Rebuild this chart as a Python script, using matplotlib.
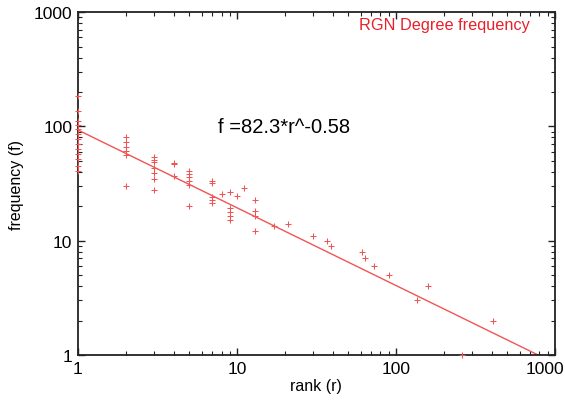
import matplotlib
matplotlib.use("Agg")
import matplotlib.pyplot as plt
import matplotlib.transforms as mtransforms
from matplotlib.ticker import FixedLocator, FixedFormatter, LogLocator, NullFormatter
import numpy as np

plt.rcParams['font.family'] = ['Liberation Sans', 'DejaVu Sans']

# data: rank vs frequency
rank = [1]*13 + [2]*6 + [3]*7 + [4]*3 + [5]*6 + [7]*5 + [8] + [9]*5 + [10] + [11] + [13]*4 + \
       [17, 21, 30, 37, 39, 61, 64, 73, 91, 135, 160, 262, 409]
freq = [186, 137, 112, 103, 95, 86, 78, 70, 63, 57, 52, 45, 41,
        80, 73, 66, 61, 56, 30,
        54, 51, 48.5, 43, 39, 35, 28,
        48, 47, 37,
        41, 38, 36, 33.5, 30.7, 20,
        33, 32, 24, 22.6, 21.4,
        25.6,
        26.5, 19.2, 17.7, 16.5, 15.3,
        24.5,
        28.7,
        22.7, 18.3, 16.3, 12.2,
        13.4, 14, 11, 10, 9, 8, 7, 6, 5, 3, 4, 1, 2]

# fitted power law as drawn
fit_coef = 93.0
fit_exp = -0.68
fit_range = [1, 1000]

title_text = "RGN Degree frequency"
fit_text = "f =82.3*r^-0.58"

xticks = [1, 10, 100, 1000]
xticklabels = ["1", "10", "100", "1000"]
yticks = [1, 10, 100, 1000]
yticklabels = ["1", "10", "100", "1000"]

fig = plt.figure(figsize=(5.65, 4.02), dpi=100)
ax = fig.add_axes([0.138, 0.1144, 0.844, 0.853])

red = '#f05555'
ax.plot(rank, freq, linestyle='none', marker='+', markersize=5, markeredgewidth=0.75,
        color=red, clip_on=False, zorder=3)

r = np.logspace(np.log10(fit_range[0]), np.log10(fit_range[1]), 200)
ax.plot(r, fit_coef * r ** fit_exp, color=red, lw=1.0, zorder=2)

ax.set_xscale('log')
ax.set_yscale('log')
ax.set_xlim(1, 1000)
ax.set_ylim(1, 1000)

ax.xaxis.set_major_locator(FixedLocator(xticks))
ax.xaxis.set_major_formatter(FixedFormatter(xticklabels))
ax.yaxis.set_major_locator(FixedLocator(yticks))
ax.yaxis.set_major_formatter(FixedFormatter(yticklabels))
ax.xaxis.set_minor_locator(LogLocator(base=10, subs=np.arange(2, 10)))
ax.yaxis.set_minor_locator(LogLocator(base=10, subs=np.arange(2, 10)))
ax.xaxis.set_minor_formatter(NullFormatter())
ax.yaxis.set_minor_formatter(NullFormatter())

ax.tick_params(which='both', direction='in', top=True, right=True, colors='#222222',
               labelsize=12.5, labelcolor='black')
ax.tick_params(which='major', length=5, width=1.0, pad=4)
ax.tick_params(which='minor', length=3, width=0.8)
for s in ax.spines.values():
    s.set_linewidth(1.3)
    s.set_color('#222222')

ax.set_xlabel("rank (r)", fontsize=11.5, labelpad=2)
ax.set_ylabel("frequency (f)", fontsize=11.5, labelpad=7)

ax.text(0.948, 0.985, title_text, transform=ax.transAxes, ha='right', va='top',
        color='#e8202a', fontsize=11.7)
ax.text(0.293, 0.667, fit_text, transform=ax.transAxes, ha='left', va='center',
        color='black', fontsize=14.5)

# keep last x tick label inside the figure
fig.canvas.draw()
lbl = ax.xaxis.get_major_ticks()[-1].label1
lbl.set_transform(lbl.get_transform() + mtransforms.ScaledTranslation(-10/100, 0, fig.dpi_scale_trans))

fig.savefig("out.png", dpi=100)
